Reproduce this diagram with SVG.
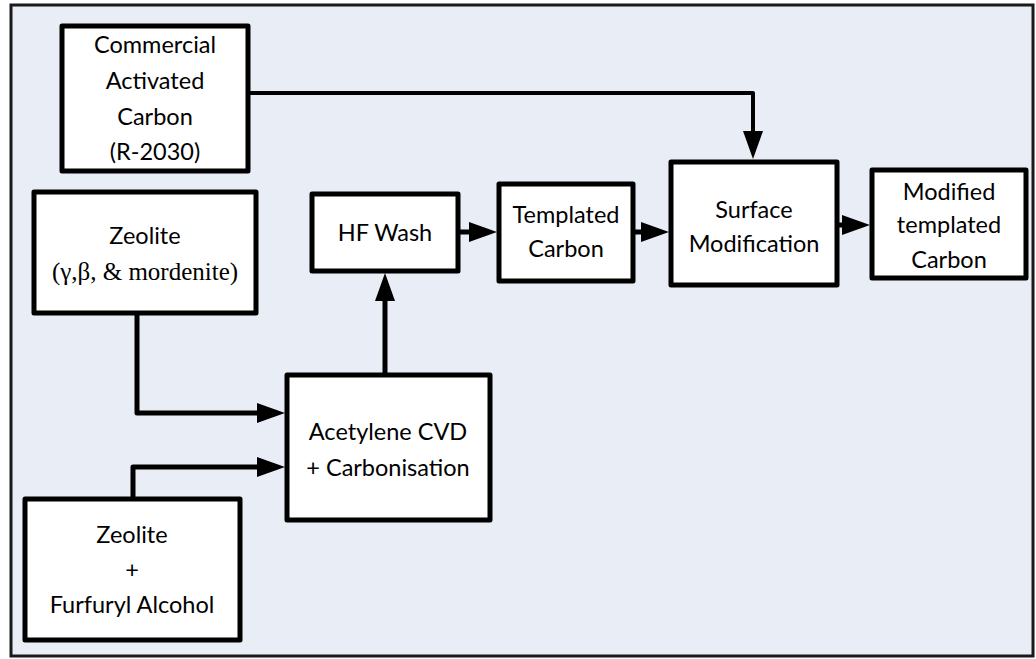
<svg xmlns="http://www.w3.org/2000/svg" width="1036" height="659" viewBox="0 0 1036 659">
<defs>
<style>
.box{fill:#ffffff;stroke:#000000;stroke-width:5;stroke-linejoin:round}
.t{font-family:Lato,"Liberation Sans",sans-serif;font-size:23.5px;fill:#000000;text-anchor:middle}
.s{font-family:"Liberation Serif",serif;font-size:25px;fill:#000000;text-anchor:middle}
.c{fill:none;stroke:#000000;stroke-width:5;stroke-linejoin:round}
.thin{stroke-width:4}
</style>
<marker id="ah" markerUnits="userSpaceOnUse" markerWidth="28" markerHeight="20" refX="0" refY="10" orient="auto" overflow="visible">
<path d="M0,0 L28,10 L0,20 Z" fill="#000000"/>
</marker>
</defs>
<rect x="0" y="0" width="1036" height="659" fill="#ffffff"/>
<rect id="frame" x="11" y="5" width="1022" height="651" fill="#e9edf5" stroke="#1a1a1a" stroke-width="3"/>
<g id="n-commercial">
<rect class="box" x="62" y="26" width="186" height="145"/>
<text class="t" x="155" y="53">Commercial</text>
<text class="t" x="155" y="89">Activated</text>
<text class="t" x="155" y="125">Carbon</text>
<text class="t" x="155" y="160">(R-2030)</text>
</g>
<g id="n-zeolite">
<rect class="box" x="34" y="192" width="222" height="121"/>
<text class="t" x="145" y="244">Zeolite</text>
<text class="s" x="145" y="280">(γ,β, &amp; mordenite)</text>
</g>
<g id="n-furfuryl">
<rect class="box" x="25" y="499" width="215" height="141"/>
<text class="t" x="132" y="543">Zeolite</text>
<text class="t" x="132" y="578">+</text>
<text class="t" x="132" y="613">Furfuryl Alcohol</text>
</g>
<g id="n-cvd">
<rect class="box" x="287" y="375" width="203" height="145"/>
<text class="t" x="388" y="440">Acetylene CVD</text>
<text class="t" x="388" y="476">+ Carbonisation</text>
</g>
<g id="n-hf">
<rect class="box" x="312" y="194" width="146" height="77"/>
<text class="t" x="385" y="241">HF Wash</text>
</g>
<g id="n-templated">
<rect class="box" x="499" y="184" width="134" height="97"/>
<text class="t" x="566" y="223">Templated</text>
<text class="t" x="566" y="257">Carbon</text>
</g>
<g id="n-surface">
<rect class="box" x="671" y="162" width="166" height="123"/>
<text class="t" x="754" y="218">Surface</text>
<text class="t" x="754" y="252">Modification</text>
</g>
<g id="n-modified">
<rect class="box" x="872" y="170" width="154" height="108"/>
<text class="t" x="949" y="200">Modified</text>
<text class="t" x="949" y="233">templated</text>
<text class="t" x="949" y="268">Carbon</text>
</g>
<g id="connectors">
<path class="c thin" d="M250,93 H753 V131" marker-end="url(#ah)"/>
<path class="c" d="M137,315 V413 H257" marker-end="url(#ah)"/>
<path class="c" d="M133,497 V467 H257" marker-end="url(#ah)"/>
<path class="c" d="M385,373 V301" marker-end="url(#ah)"/>
<path class="c" d="M460,232 H469" marker-end="url(#ah)"/>
<path class="c" d="M635,232 H641" marker-end="url(#ah)"/>
<path class="c" d="M839,225 H842" marker-end="url(#ah)"/>
</g>
</svg>
